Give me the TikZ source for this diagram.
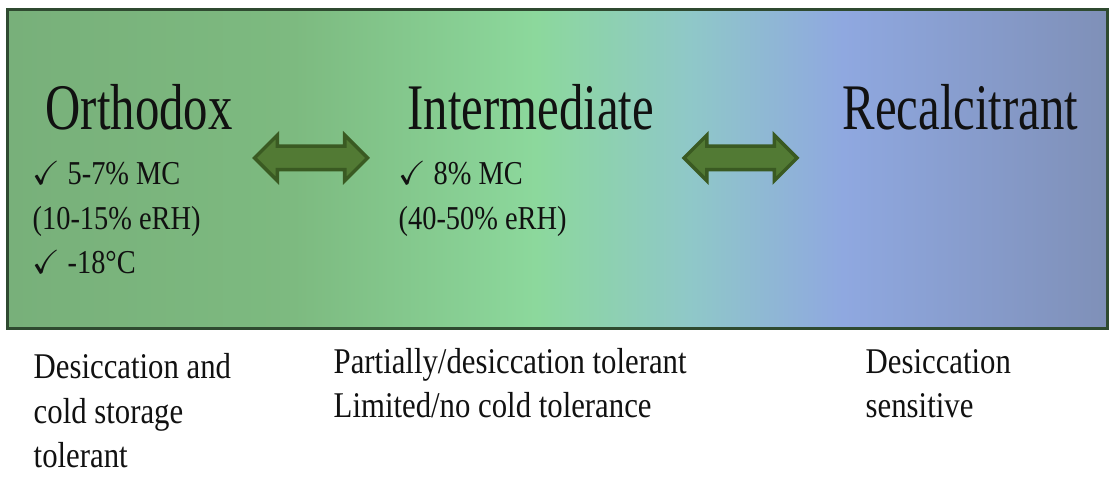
\documentclass[tikz,border=0pt]{standalone}
\usepackage{amsmath,amssymb}
\usepackage{fontspec}
\setmainfont{Liberation Serif}[FakeStretch=0.85]
\newfontfamily\headfont{Liberation Serif}[FakeStretch=0.75]
\usepackage{xcolor}
\usepackage{tikz}
\usetikzlibrary{shapes.arrows}
\definecolor{sagec}{HTML}{78B07A}
\definecolor{leafc}{HTML}{7DBA80}
\definecolor{mintc}{HTML}{8CD89C}
\definecolor{tealc}{HTML}{8FC8C8}
\definecolor{skyc}{HTML}{8FA8E0}
\definecolor{slatec}{HTML}{7F90B8}
\definecolor{framec}{HTML}{2F4A30}
\definecolor{arrc}{HTML}{527A34}
\definecolor{arrd}{HTML}{3A5A22}
\definecolor{inkc}{HTML}{111111}
\pgfdeclarehorizontalshading{seedgrad}{100bp}{color(0bp)=(sagec); color(25bp)=(sagec);
  color(38bp)=(leafc); color(49bp)=(mintc); color(56bp)=(tealc); color(63bp)=(skyc);
  color(75bp)=(slatec); color(100bp)=(slatec)}
\tikzset{
  panel/.style={draw=framec,line width=0.03cm,shading=seedgrad,inner sep=0pt},
  head/.style={anchor=base west,inner sep=0pt,font=\headfont\fontsize{18.5}{22}\selectfont,text=inkc},
  note/.style={anchor=base west,inner sep=0pt,align=left,font=\rmfamily\fontsize{9.5}{12.8}\selectfont,text=inkc},
  tol/.style={anchor=base west,inner sep=0pt,align=left,font=\rmfamily\fontsize{10.3}{12.8}\selectfont,text=inkc},
  dbl/.style={double arrow,draw=arrd,fill=arrc,line width=1pt,minimum height=1.13cm,
    text height=0.1cm,text depth=0.1cm,text width=0pt,double arrow head extend=0.11cm,inner sep=0pt}
}

\begin{document}
\begin{tikzpicture}
\useasboundingbox (0,0) rectangle (11.18,4.89);
\node[panel,minimum width=10.99cm,minimum height=3.19cm] (box) at (5.575,3.195) {};
\node[head] (orth) at (0.45,3.59) {Orthodox};
\node[head] (inter) at (4.07,3.59) {Intermediate};
\node[head] (recal) at (8.42,3.59) {Recalcitrant};
% multi-line nodes sit on their last baseline
\node[note] (orthn) at (0.32,2.15) {$\checkmark$ 5-7\% MC\\(10-15\% eRH)\\$\checkmark$ -18\textdegree C};
\node[note] (intern) at (3.98,2.59) {$\checkmark$ 8\% MC\\(40-50\% eRH)};
\node[dbl] (arra) at (3.11,3.31) {};
\node[dbl] (arrb) at (7.405,3.31) {};
\node[tol] (orthb) at (0.33,0.21) {Desiccation and\\cold storage\\tolerant};
\node[tol] (interb) at (3.33,0.71) {Partially/desiccation tolerant\\Limited/no cold tolerance};
\node[tol] (recalb) at (8.65,0.71) {Desiccation\\sensitive};
\end{tikzpicture}
\end{document}
